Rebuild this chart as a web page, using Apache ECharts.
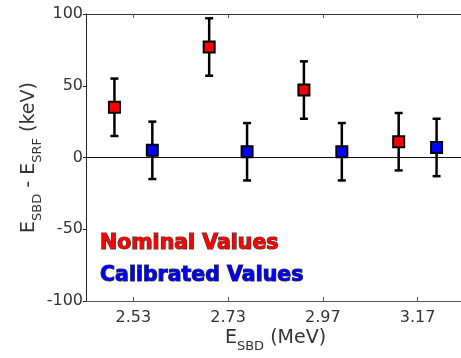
<!DOCTYPE html>
<html>
<head>
<meta charset="utf-8">
<script src="https://cdn.jsdelivr.net/npm/echarts@6/dist/echarts.min.js"></script>
<style>
  html, body { margin: 0; padding: 0; background: #fff; }
  #chart { width: 461px; height: 358px; }
</style>
</head>
<body>
<div id="chart"></div>
<script>
// tick positions on the x axis and their labels (MeV)
const tickPos = [1, 2, 3, 4]
const tickLabels = ['2.53', '2.73', '2.97', '3.17']

// nominal values: offset to the left of each tick
const nominalX = [0.8, 1.8, 2.8, 3.8]
const nominalY = [35, 77, 47, 11]
const nominalErr = [20, 20, 20, 20]

// calibrated values: offset to the right of each tick
const calibratedX = [1.2, 2.2, 3.2, 4.2]
const calibratedY = [5, 4, 4, 7]
const calibratedErr = [20, 20, 20, 20]

const font = 'DejaVu Sans'

const chart = echarts.init(document.getElementById('chart'), null, { renderer: 'canvas' })

const errorBars = (xs, ys, es) => ({
    type: 'custom',
    z: 3,
    silent: true,
    data: xs.map((x, i) => [x, ys[i] - es[i], ys[i] + es[i]]),
    renderItem: (params, api) => {
        const lo = api.coord([api.value(0), api.value(1)])
        const hi = api.coord([api.value(0), api.value(2)])
        const cap = 4
        const style = { stroke: '#000', lineWidth: 2.5 }
        return {
            type: 'group',
            children: [
                { type: 'line', shape: { x1: lo[0], y1: lo[1], x2: hi[0], y2: hi[1] }, style },
                { type: 'line', shape: { x1: lo[0] - cap, y1: lo[1], x2: lo[0] + cap, y2: lo[1] }, style },
                { type: 'line', shape: { x1: hi[0] - cap, y1: hi[1], x2: hi[0] + cap, y2: hi[1] }, style },
            ],
        }
    },
})

const markers = (name, xs, ys, color) => ({
    name,
    type: 'scatter',
    z: 5,
    symbol: 'rect',
    symbolSize: 11,
    data: xs.map((x, i) => [x, ys[i]]),
    itemStyle: { color, borderColor: '#000', borderWidth: 2, opacity: 1 },
})

const axisText = { color: '#333', fontFamily: font, fontSize: 16 }

// main text / subscript styles for the axis names
const nameRich = {
    m: { fontFamily: font, fontSize: 19, color: '#333', lineHeight: 19, padding: [0, 0, 9, 0] },
    s: { fontFamily: font, fontSize: 13, color: '#333', lineHeight: 13, padding: [9, 0, 0, 0] },
}

chart.setOption({
    animation: false,
    backgroundColor: '#fff',
    grid: { left: 86, top: 14, right: -4, bottom: 57, outerBoundsMode: 'none' },
    legend: {
        orient: 'vertical',
        left: 90,
        top: 228,
        icon: 'none',
        itemWidth: 0,
        itemGap: 9,
        selectedMode: false,
        data: [
            { name: 'Nominal Values', textStyle: { color: '#ff0000' } },
            { name: 'Calibrated Values', textStyle: { color: '#0000f0' } },
        ],
        textStyle: {
            fontFamily: font,
            fontWeight: 'bold',
            fontSize: 20.5,
            textBorderColor: '#3a3a3a',
            textBorderWidth: 1.2,
        },
    },
    xAxis: [
        {
            type: 'value',
            min: 0.5,
            max: 4.5,
            position: 'bottom',
            name: '{m|E}{s|SBD}{m| (MeV)}',
            nameLocation: 'middle',
            nameGap: 32,
            nameMoveOverlap: false,
            nameTextStyle: { rich: nameRich },
            axisLine: { onZero: false, lineStyle: { color: '#555', width: 1 } },
            axisTick: { inside: true, length: 4, customValues: tickPos, lineStyle: { color: '#555' } },
            axisLabel: {
                customValues: tickPos,
                margin: 9,
                ...axisText,
                formatter: (v) => tickLabels[tickPos.indexOf(Math.round(v))] || '',
            },
            splitLine: { show: false },
        },
        {
            type: 'value',
            min: 0.5,
            max: 4.5,
            position: 'top',
            axisLine: { onZero: false, lineStyle: { color: '#333', width: 1 } },
            axisTick: { inside: true, length: 4, customValues: tickPos, lineStyle: { color: '#555' } },
            axisLabel: { show: false },
            splitLine: { show: false },
        },
    ],
    yAxis: [
        {
            type: 'value',
            min: -100,
            max: 100,
            interval: 50,
            name: '{m|E}{s|SBD}{m| - E}{s|SRF}{m| (keV)}',
            nameLocation: 'middle',
            nameGap: 43,
            nameMoveOverlap: false,
            nameRotate: 90,
            nameTextStyle: { rich: nameRich },
            axisLine: { show: true, onZero: false, lineStyle: { color: '#222', width: 1 } },
            axisTick: { show: true, length: 3, lineStyle: { color: '#222' } },
            axisLabel: { margin: 3, ...axisText },
            splitLine: { show: false },
        },
        {
            type: 'value',
            min: -100,
            max: 100,
            interval: 50,
            position: 'right',
            axisLine: { show: true, onZero: false, lineStyle: { color: '#333' } },
            axisTick: { show: true, inside: true, length: 4, lineStyle: { color: '#999' } },
            axisLabel: { show: false },
            splitLine: { show: false },
        },
    ],
    series: [
        {
            ...errorBars(nominalX, nominalY, nominalErr),
            markLine: {
                silent: true,
                symbol: 'none',
                label: { show: false },
                lineStyle: { color: '#111', width: 1, type: 'solid' },
                data: [{ yAxis: 0 }],
            },
        },
        errorBars(calibratedX, calibratedY, calibratedErr),
        markers('Nominal Values', nominalX, nominalY, '#ff0000'),
        markers('Calibrated Values', calibratedX, calibratedY, '#0000ff'),
    ],
})
</script>
</body>
</html>
